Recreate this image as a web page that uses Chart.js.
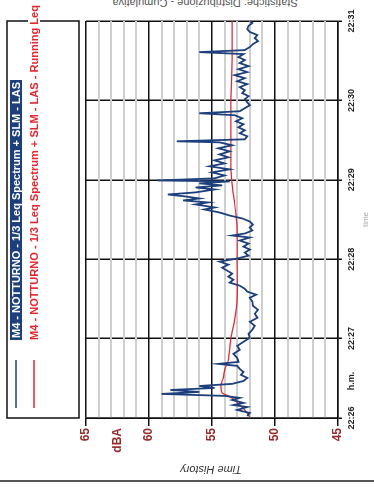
<!DOCTYPE html>
<html>
<head>
<meta charset="utf-8">
<script src="https://cdn.jsdelivr.net/npm/chart.js@4"></script>
<style>
  html, body { margin: 0; padding: 0; background: #fff; }
  body { width: 374px; height: 488px; overflow: hidden; position: relative; font-family: "Liberation Sans", Arial, sans-serif; }
  #wrap { position: absolute; left: 0; top: 0; width: 488px; height: 374px;
          transform-origin: 0 0; transform: translate(0px, 488px) rotate(-90deg); }
  .flip { position: absolute; transform: rotate(180deg); white-space: nowrap; }
  #head { left: 0; width: 410px; top: -3px; text-align: center; font-size: 11px; color: #555; }
  #foot { left: 0; width: 422px; top: 464px; text-align: center; font-size: 11px; font-style: italic; color: #333; }
  #rule { position: absolute; left: 0; top: 480px; width: 374px; height: 2px; background: #555; }
</style>
</head>
<body>
<div id="head" class="flip">Statistiche: Distribuzione - Cumulativa</div>
<div id="wrap"><canvas id="chart" width="488" height="374"></canvas></div>
<div id="foot" class="flip">Time History</div>
<div id="rule"></div>
<script>
// seconds after 22:26:00
const lasTimes = [1.5, 3.8, 6.1, 8.3, 9.8, 11.4, 13.6, 15.2, 16.7, 18.2, 19.7, 21.2, 22.7, 24.2, 25.8,
  28.0, 30.3, 32.6, 34.8, 37.1, 39.4, 40.9, 42.4, 45.5, 48.5, 51.5, 54.5, 57.6, 60.6, 63.6, 66.7,
  69.7, 72.7, 75.8, 78.8, 81.8, 84.8, 87.9, 90.9, 93.2, 95.5, 97.7, 100, 102.3, 104.5, 106.8,
  109.1, 111.4, 113.6, 115.9, 118.2, 120.5, 122.7, 125, 127.3, 129.5, 131.8, 134.1, 136.4,
  137.9, 139.4, 141.7, 143.9, 146.2, 148.5, 150.8, 153, 155.3, 157.6, 159.1, 161.4, 162.9,
  164.4, 165.9, 167.4, 168.9, 170.5, 172.7, 174.2, 175.8, 177.3, 178.8, 179.5, 181.1, 183.3,
  185.6, 187.9, 190.2, 192.4, 194.7, 197, 199.2, 201.5, 203.8, 206.1, 208.3, 209.1, 210.6,
  212.9, 215.2, 217.4, 219.7, 222, 224.2, 226.5, 228.8, 230.3, 231.8, 234.1, 236.4, 238.6,
  240.9, 243.2, 245.5, 247.7, 250, 252.3, 254.5, 256.8, 259.1, 261.4, 263.6, 265.9, 268.2,
  270.5, 272.7, 275, 276.5, 278, 280.3, 282.6, 284.8, 287.1, 289.4, 291.7, 293.9, 296.2, 298.5, 300];
const lasValues = [52.2, 52.0, 53.0, 52.2, 53.3, 52.5, 53.4, 52.8, 54.0, 59.0, 56.0, 58.3, 54.8, 56.0, 53.4,
  52.5, 52.2, 52.7, 52.5, 52.8, 53.0, 54.5, 52.9, 53.0, 53.3, 52.8, 53.0, 52.5, 52.0, 52.1, 51.8,
  51.6, 52.0, 51.4, 51.6, 51.35, 51.75, 51.8, 52.0, 51.5, 52.2, 52.4, 52.8, 53.6, 53.3, 53.7,
  53.4, 53.8, 54.2, 53.7, 54.4, 53.0, 52.1, 52.4, 52.0, 52.5, 52.1, 52.8, 52.0,
  53.4, 52.4, 51.8, 52.0, 51.75, 52.0, 52.6, 53.6, 54.4, 55.6, 54.8, 56.3, 55.3,
  57.3, 56.0, 57.1, 58.5, 56.3, 54.8, 56.3, 54.2, 56.0, 53.6, 59.3, 54.8, 54.0,
  55.0, 53.6, 55.2, 54.0, 54.8, 53.7, 54.4, 53.6, 54.5, 53.4, 54.4, 57.8, 52.4,
  52.2, 52.8, 52.4, 52.9, 52.5, 53.1, 52.6, 53.2, 56.0, 52.8, 52.4, 52.0, 52.2,
  52.4, 52.1, 52.6, 52.4, 52.8, 52.2, 53.0, 52.4, 53.2, 52.2, 52.9, 52.1, 52.8,
  52.4, 52.9, 52.5, 56.0, 52.4, 52.0, 51.75, 51.35, 51.6, 51.4, 52.0, 52.2, 52.1, 51.8, 52.0];

const leqTimes = [0.8, 6.1, 9.8, 13.6, 16.7, 18.9, 25, 30.3, 36.4, 43.9, 60.6, 74.2, 89.4,
  119.7, 142.4, 153.8, 165.2, 176.5, 187.9, 199.2, 218.2, 240.9, 271.2, 300];
const leqValues = [52.0, 52.4, 52.8, 53.2, 53.7, 54.2, 54.3, 54.1, 54.0, 53.7, 53.5, 53.2, 53.0,
  53.0, 53.0, 53.1, 53.25, 53.4, 53.5, 53.5, 53.5, 53.5, 53.4, 53.4];

const timeLabels = ['22:26', '22:27', '22:28', '22:29', '22:30', '22:31'];
const dbaTicks = [65, 60, 55, 50, 45];

const seriesNames = [
  'M4 - NOTTURNO - 1/3 Leq Spectrum + SLM - LAS',
  'M4 - NOTTURNO - 1/3 Leq Spectrum + SLM - LAS - Running Leq',
];
const blue = '#1d3f7c';
const red = '#e32630';
const darkRed = '#962a2a';

// squeeze text into a given width (narrow print font)
function fitText(ctx, text, x, y, width) {
  const w = ctx.measureText(text).width;
  ctx.save();
  ctx.translate(x, y);
  ctx.scale(width / w, 1);
  ctx.fillText(text, 0, 0);
  ctx.restore();
}

const decor = {
  id: 'decor',
  afterDraw(chart) {
    const { ctx, chartArea: a, scales } = chart;
    ctx.save();
    // legend frame
    ctx.strokeStyle = '#111';
    ctx.lineWidth = 1.5;
    ctx.strokeRect(a.left, 7, a.right - a.left, 72);

    ctx.font = 'bold 11px "Liberation Sans", Arial, sans-serif';
    ctx.textBaseline = 'middle';
    // first item
    ctx.strokeStyle = blue;
    ctx.beginPath(); ctx.moveTo(a.left + 10, 16); ctx.lineTo(a.left + 58, 16); ctx.stroke();
    ctx.fillStyle = blue;
    ctx.fillRect(a.left + 78, 10, 260, 12);
    ctx.fillStyle = '#fff';
    fitText(ctx, seriesNames[0], a.left + 80, 16.5, 256);
    // second item
    ctx.strokeStyle = red;
    ctx.beginPath(); ctx.moveTo(a.left + 10, 34); ctx.lineTo(a.left + 58, 34); ctx.stroke();
    ctx.fillStyle = '#fff';
    ctx.fillRect(a.left + 76, 28, 340, 12);
    ctx.fillStyle = red;
    fitText(ctx, seriesNames[1], a.left + 78, 34.5, 335);

    // axis captions
    ctx.fillStyle = darkRed;
    ctx.font = 'bold 12px "Liberation Sans", Arial, sans-serif';
    ctx.textAlign = 'right';
    ctx.fillText('dBA', a.left - 10, scales.y.getPixelForValue(62.5));
    ctx.textAlign = 'center';
    ctx.fillStyle = '#222';
    ctx.font = 'bold 9px "Liberation Sans", Arial, sans-serif';
    ctx.fillText('h.m.', scales.x.getPixelForValue(28), a.bottom + 14);
    ctx.fillStyle = '#aaa';
    ctx.font = '8px "Liberation Sans", Arial, sans-serif';
    ctx.fillText('time', (a.left + a.right) / 2, a.bottom + 28);
    ctx.restore();
  },
};

new Chart(document.getElementById('chart'), {
  type: 'line',
  data: {
    datasets: [
      {
        label: seriesNames[0],
        data: lasTimes.map((t, i) => ({ x: t, y: lasValues[i] })),
        borderColor: blue,
        borderWidth: 1.8,
        pointRadius: 0,
        tension: 0,
      },
      {
        label: seriesNames[1],
        data: leqTimes.map((t, i) => ({ x: t, y: leqValues[i] })),
        borderColor: red,
        borderWidth: 1.2,
        pointRadius: 0,
        tension: 0.2,
      },
    ],
  },
  options: {
    responsive: false,
    devicePixelRatio: 1,
    animation: false,
    parsing: true,
    layout: { padding: { top: 86, right: 21, left: 0, bottom: 0 } },
    scales: {
      x: {
        type: 'linear',
        min: 0,
        max: 300,
        afterFit(s) { s.height = 36; },
        ticks: {
          stepSize: 60,
          maxRotation: 0,
          padding: 4,
          color: '#222',
          font: { size: 9, weight: 'bold', family: '"Liberation Sans", Arial, sans-serif' },
          callback: (v) => timeLabels[Math.round(v / 60)],
        },
        grid: { color: '#111', lineWidth: 1.5, tickLength: 4, tickColor: '#111' },
        border: { color: '#111', width: 1.5 },
      },
      y: {
        min: 45,
        max: 65,
        afterFit(s) { s.width = 70; },
        ticks: {
          stepSize: 1,
          autoSkip: false,
          padding: 2,
          color: darkRed,
          font: { size: 12, weight: 'bold', family: '"Liberation Sans", Arial, sans-serif' },
          callback: (v) => (dbaTicks.includes(v) ? String(v) : ''),
        },
        grid: {
          color: (c) => (dbaTicks.includes(c.tick && c.tick.value) ? '#111' : '#cfcfcf'),
          lineWidth: (c) => (dbaTicks.includes(c.tick && c.tick.value) ? 1.5 : 2),
          tickLength: 8,
          tickColor: (c) => (dbaTicks.includes(c.tick && c.tick.value) ? '#111' : 'rgba(0,0,0,0)'),
        },
        border: { color: '#111', width: 1.5 },
      },
    },
    plugins: {
      legend: { display: false },
      tooltip: { enabled: false },
    },
  },
  plugins: [decor],
});
</script>
</body>
</html>
